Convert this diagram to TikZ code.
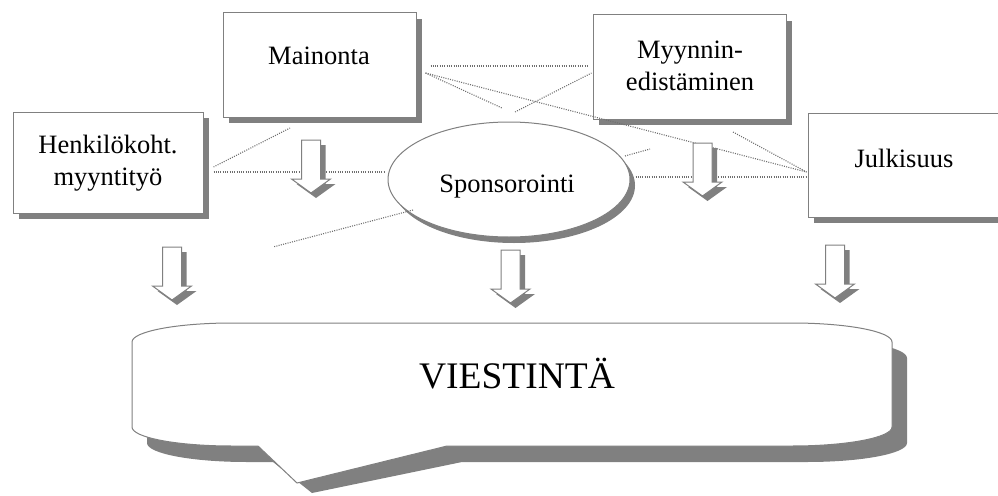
\documentclass[tikz,border=0pt]{standalone}
\usepackage{fontspec}
\setmainfont{Liberation Serif}
\usetikzlibrary{shapes.geometric,shadows}
\definecolor{shadowgrey}{HTML}{808080}
\definecolor{linegrey}{HTML}{808080}
\definecolor{dotgrey}{HTML}{6E6E6E}
\begin{document}
\begin{tikzpicture}[x=1pt,y=-1pt,
  box/.style={draw=linegrey, line width=1pt, fill=white, inner sep=0pt,
    drop shadow={shadow xshift=6pt, shadow yshift=-6pt, fill=shadowgrey, opacity=1}},
  oval/.style={ellipse, draw=linegrey, line width=1pt, fill=white, inner sep=0pt,
    drop shadow={shadow xshift=5pt, shadow yshift=-6pt, fill=shadowgrey, opacity=1}},
  lbl/.style={font=\fontsize{26.5}{31.5}\selectfont, anchor=base, align=center, inner sep=0pt},
  dotline/.style={draw=dotgrey, line width=1.1pt, dash pattern=on 1pt off 1.3pt},
  blockarrow/.pic={
    \fill[shadowgrey] (-4.5,5) -- (14.5,5) -- (14.5,44) -- (24.5,44) -- (5,58) -- (-14.5,44) -- (-4.5,44) -- cycle;
    \draw[linegrey, line width=1pt, fill=white] (-9.5,0) -- (9.5,0) -- (9.5,39) -- (19.5,39) -- (0,53) -- (-19.5,39) -- (-9.5,39) -- cycle;
  }
]
\clip (0,0) rectangle (998,495);
\fill[white] (0,0) rectangle (998,495);

% boxes
\node[box, minimum width=193pt, minimum height=104pt] (mainonta) at (319.5,65) {};
\node[box, minimum width=190pt, minimum height=101pt] (henk) at (108,162.5) {};
\node[box, minimum width=193pt, minimum height=104pt] (myyn) at (689.5,67) {};
\node[box, minimum width=200pt, minimum height=104pt] (julk) at (908,165) {};
\node[oval, minimum width=242pt, minimum height=115pt] (spons) at (509,179.5) {};

% labels
\node[lbl] (mainonta-t) at (319,64) {Mainonta};
\node[lbl] (henk-t) at (108,185) {Henkilökoht.\\myyntityö};
\node[lbl] (myyn-t) at (690,90) {Myynnin-\\edistäminen};
\node[lbl] (julk-t) at (904,167) {Julkisuus};
\node[lbl] (spons-t) at (507,192) {Sponsorointi};

% free ends of dotted lines
\coordinate (f3) at (502,108);
\coordinate (f4) at (515,112);
\coordinate (f5) at (650,149);
\coordinate (f6) at (733,132);
\coordinate (f9) at (290,128);
\coordinate (f10) at (273,247);

% dotted connectors
\draw[dotline] ([shift={(14,1)}]mainonta.east) -- ([shift={(-5,-1)}]myyn.west);
\draw[dotline] ([shift={(9,8)}]mainonta.east) -- ([shift={(-1,7)}]julk.west);
\draw[dotline] ([shift={(9,8)}]mainonta.east) -- (f3);
\draw[dotline] (f4) -- ([shift={(-1,6)}]myyn.west);
\draw[dotline] ([shift={(116,-23.5)}]spons.center) -- (f5);
\draw[dotline] (f6) -- ([shift={(-1,7)}]julk.west);
\draw[dotline] ([shift={(5,-2.5)}]spons.east) -- ([shift={(-1,12)}]julk.west);
\draw[dotline] ([shift={(10,9.5)}]henk.east) -- ([shift={(-3,-7.5)}]spons.west);
\draw[dotline] ([shift={(10,4.5)}]henk.east) -- (f9);
\draw[dotline] ([shift={(-96,30.5)}]spons.center) -- (f10);

% block arrows
\pic (arr1) at (311,140) {blockarrow};
\pic (arr2) at (702.5,143) {blockarrow};
\pic (arr3) at (172,247) {blockarrow};
\pic (arr4) at (510.5,250) {blockarrow};
\pic (arr5) at (835,245) {blockarrow};

% callout
\fill[shadowgrey, shift={(15,16)}]
  (232,323) -- (792,323) arc[start angle=-90, end angle=0, x radius=100, y radius=19]
  -- (892,427) arc[start angle=0, end angle=90, x radius=100, y radius=19]
  -- (447,446) -- (297,477) -- (258,446) -- (232,446)
  arc[start angle=90, end angle=180, x radius=100, y radius=19]
  -- (132,342) arc[start angle=180, end angle=270, x radius=100, y radius=19] -- cycle;
\draw[linegrey, line width=1pt, fill=white]
  (232,323) -- (792,323) arc[start angle=-90, end angle=0, x radius=100, y radius=19]
  -- (892,427) arc[start angle=0, end angle=90, x radius=100, y radius=19]
  -- (447,446) -- (297,483) -- (258,446) -- (232,446)
  arc[start angle=90, end angle=180, x radius=100, y radius=19]
  -- (132,342) arc[start angle=180, end angle=270, x radius=100, y radius=19] -- cycle;
\node[lbl, font=\fontsize{37.5}{40}\selectfont] (viestinta) at (517,388) {VIESTINTÄ};
\end{tikzpicture}
\end{document}
